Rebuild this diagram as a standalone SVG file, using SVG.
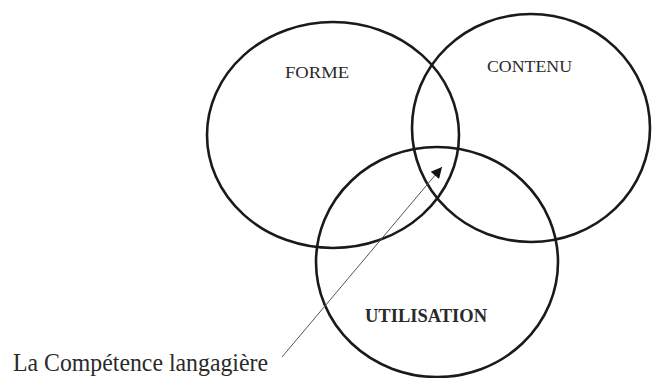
<svg xmlns="http://www.w3.org/2000/svg" width="652" height="378" viewBox="0 0 652 378">
<style>
.c{fill:none;stroke:#1a1a1a;stroke-width:2.6}
.t{font-family:"Liberation Serif","Times New Roman",serif;fill:#2a2a2a}
.conn{stroke:#555;stroke-width:1;fill:none}
</style>
<defs>
<marker id="ah" viewBox="0 0 10 10" refX="10" refY="5" markerWidth="14" markerHeight="11" markerUnits="userSpaceOnUse" orient="auto">
<path d="M0,0 L10,5 L0,10 z" fill="#111"/>
</marker>
</defs>
<rect width="652" height="378" fill="#fff"/>
<g id="forme">
<ellipse class="c" cx="333" cy="135" rx="126" ry="113"/>
<text class="t" x="285" y="78" font-size="16.5" textLength="64" lengthAdjust="spacingAndGlyphs">FORME</text>
</g>
<g id="contenu">
<ellipse class="c" cx="531" cy="128" rx="119" ry="114"/>
<text class="t" x="487" y="72" font-size="17" textLength="85" lengthAdjust="spacingAndGlyphs">CONTENU</text>
</g>
<g id="utilisation">
<ellipse class="c" cx="437" cy="262" rx="121" ry="115"/>
<text class="t" x="365" y="322" font-size="19" font-weight="bold" textLength="122" lengthAdjust="spacingAndGlyphs">UTILISATION</text>
</g>
<g id="label">
<text class="t" x="13" y="371" font-size="25" textLength="255" lengthAdjust="spacingAndGlyphs">La Compétence langagière</text>
</g>
<g id="connectors">
<path class="conn" d="M282,357 L442,167" marker-end="url(#ah)"/>
</g>
</svg>
